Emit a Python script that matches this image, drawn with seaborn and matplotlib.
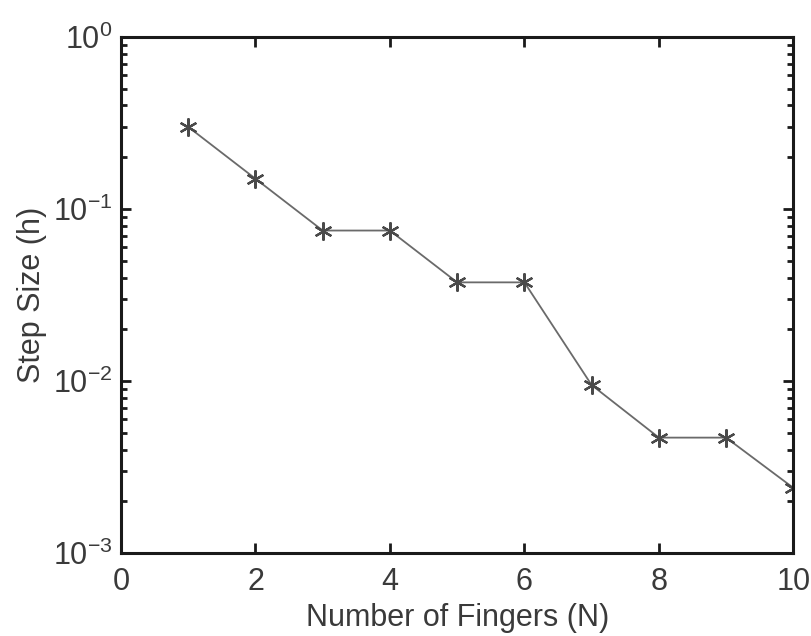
import matplotlib
matplotlib.use("Agg")
import matplotlib.pyplot as plt
import seaborn as sns
import pandas as pd
from matplotlib.ticker import LogLocator, FixedLocator

# Step size found for each number of fingers
fingers = [1, 2, 3, 4, 5, 6, 7, 8, 9, 10]
step_size = [0.3, 0.15, 0.075, 0.075, 0.0375, 0.0375, 0.0095, 0.0047, 0.0047, 0.0024]
x_ticks = [0, 2, 4, 6, 8, 10]

df = pd.DataFrame({"N": fingers, "h": step_size})

sns.set_style("ticks")
plt.rcParams["font.family"] = ["Liberation Sans", "DejaVu Sans"]
plt.rcParams["mathtext.fontset"] = "custom"
plt.rcParams["mathtext.rm"] = "Liberation Sans"
plt.rcParams["mathtext.it"] = "Liberation Sans"

text_color = "#3a3a3a"
fig = plt.figure(figsize=(8.12, 6.36), dpi=100)
ax = fig.add_axes([0.149, 0.130, 0.828, 0.812])

sns.lineplot(data=df, x="N", y="h", ax=ax, color="#6a6a6a", linewidth=1.3,
             marker=(6, 2, 0), markersize=13, markeredgewidth=1.6,
             markeredgecolor="#4a4a4a")

ax.set_yscale("log")
ax.set_xlim(0, 10)
ax.set_ylim(1e-3, 1e0)
ax.xaxis.set_major_locator(FixedLocator(x_ticks))
ax.yaxis.set_major_locator(LogLocator(base=10, numticks=10))
ax.yaxis.set_minor_locator(LogLocator(base=10, subs=range(2, 10), numticks=20))

for s in ax.spines.values():
    s.set_linewidth(2.2)
    s.set_color("#1a1a1a")

ax.tick_params(which="both", direction="in", top=True, right=True,
               color="#1a1a1a", labelcolor=text_color, labelsize=22)
ax.tick_params(which="major", length=7, width=2)
ax.tick_params(which="minor", length=4, width=2)
ax.tick_params(axis="x", pad=10)
ax.tick_params(axis="y", pad=6)

ax.set_xlabel("Number of Fingers (N)", fontsize=22, color=text_color, labelpad=4)
ax.set_ylabel("Step Size (h)", fontsize=22, color=text_color, labelpad=4)
ax.grid(False)

fig.savefig("out.png", dpi=100)
